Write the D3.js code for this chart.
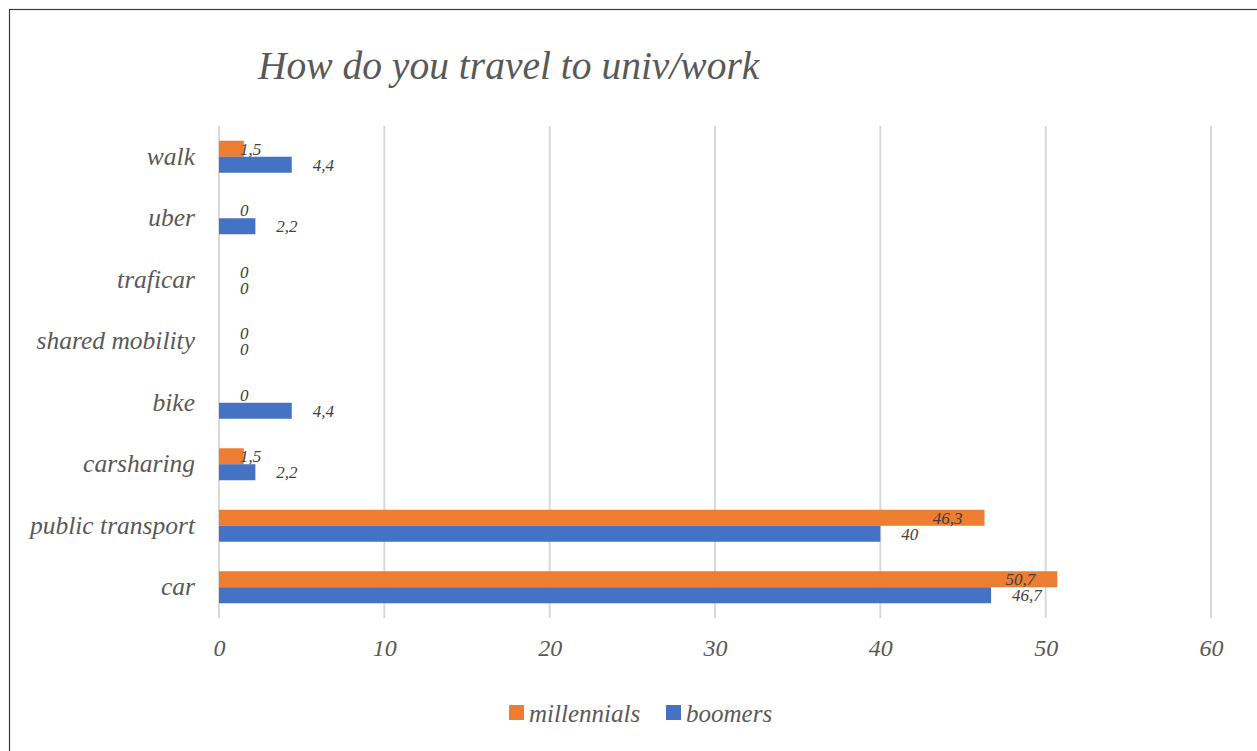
<!DOCTYPE html>
<html><head><meta charset="utf-8">
<script src="https://cdn.jsdelivr.net/npm/d3@7"></script>
<style>
html,body{margin:0;padding:0;background:#fff;}
svg{display:block;}
</style></head>
<body>
<svg id="c" width="1257" height="751"></svg>
<script>
const categories = ["walk","uber","traficar","shared mobility","bike","carsharing","public transport","car"];
const millennials = [1.5,0,0,0,0,1.5,46.3,50.7];
const boomers = [4.4,2.2,0,0,4.4,2.2,40,46.7];
const seriesNames = ["millennials","boomers"];
const xTicks = [0,10,20,30,40,50,60];
const title = "How do you travel to univ/work";
const colors = ["#ED7D31","#4472C4"];
const FONT = "Liberation Serif";

const svg = d3.select("#c");
svg.append("rect").attr("x",9.5).attr("y",9.5).attr("width",1260).attr("height",760)
  .attr("fill","#fff").attr("stroke","#3a3a3a").attr("stroke-width",1.2);

const x = d3.scaleLinear().domain([0,60]).range([219,1211]);
const y = d3.scaleBand().domain(categories).range([126,618]).padding(0);
const barH = 16;

function styleText(sel, size){
  sel.attr("font-family",FONT).attr("font-style","italic").attr("font-size",size).attr("fill","#595959");
}

svg.append("text").attr("x",258).attr("y",79).text(title).call(styleText,39.5);

// gridlines
svg.append("g").selectAll("line").data(xTicks).join("line")
  .attr("x1",d=>x(d)).attr("x2",d=>x(d)).attr("y1",126).attr("y2",618)
  .attr("stroke","#d9d9d9").attr("stroke-width",2);

// x axis tick labels
const xAxis = d3.axisBottom(x).tickValues(xTicks).tickSize(0).tickPadding(0).tickFormat(d3.format("d"));
const gx = svg.append("g").attr("transform","translate(0,656)").call(xAxis);
gx.attr("font-family",null).attr("font-size",null);
gx.select(".domain").remove();
gx.selectAll("text").attr("dy",0).call(styleText,24);

// y axis labels
const yAxis = d3.axisLeft(y).tickSize(0).tickPadding(24);
const gy = svg.append("g").attr("transform","translate(219,0)").call(yAxis);
gy.attr("font-family",null).attr("font-size",null);
gy.select(".domain").remove();
gy.selectAll("text").attr("dy","0.32em").call(styleText,25.5);

const fmt = v => String(v).replace(".",",");
const data = [millennials,boomers];

data.forEach((vals,si)=>{
  const g = svg.append("g");
  g.selectAll("rect").data(vals).join("rect")
    .attr("x",x(0)).attr("y",(d,i)=>y(categories[i])+y.bandwidth()/2-barH+si*barH)
    .attr("width",d=>x(d)-x(0)).attr("height",barH).attr("fill",colors[si]);
  const lbl = svg.append("g").selectAll("text").data(vals).join("text")
    .call(styleText,17)
    .attr("fill","#404040")
    .attr("y",(d,i)=>y(categories[i])+y.bandwidth()/2-barH/2+si*barH)
    .attr("dy","0.35em")
    .text(d=>fmt(d));
  lbl.each(function(d){
    const w = this.getComputedTextLength();
    let left;
    if(si===1) left = x(d)+21;
    else left = Math.max(x(d)-22-w, x(0)+21);
    d3.select(this).attr("x",left);
  });
});

// legend
const leg = svg.append("g");
const legItems = [{n:seriesNames[0],c:colors[0],x:509},{n:seriesNames[1],c:colors[1],x:666}];
legItems.forEach(it=>{
  leg.append("rect").attr("x",it.x).attr("y",705).attr("width",15).attr("height",15).attr("fill",it.c);
  leg.append("text").attr("x",it.x+20).attr("y",713).attr("dy","0.35em").text(it.n).call(styleText,25);
});
</script>
</body></html>
